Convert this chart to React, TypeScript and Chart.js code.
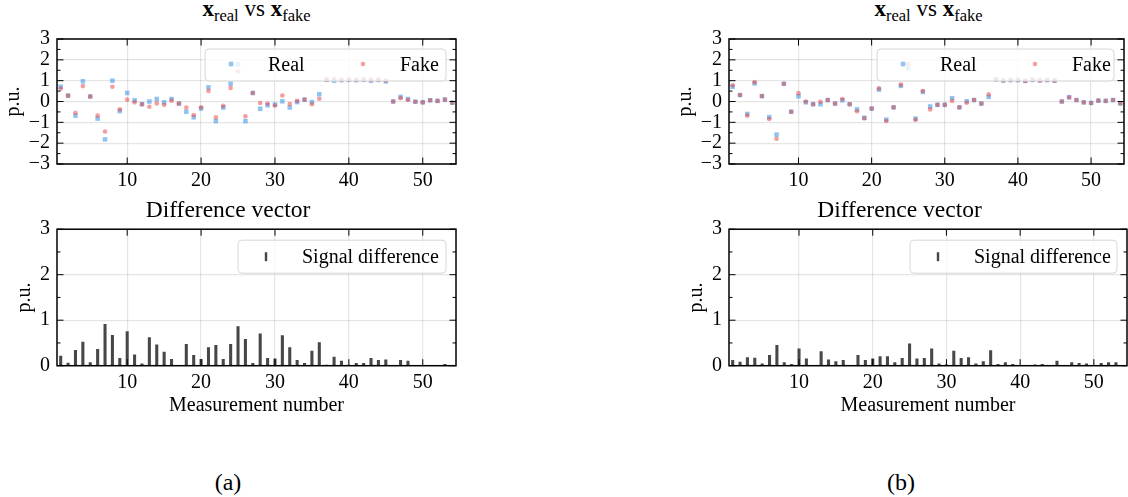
import React, { useEffect, useRef } from 'react';
import { Chart, registerables } from 'chart.js';
Chart.register(...registerables);

// ---------- data ----------
const measurements = [1, 2, 3, 4, 5, 6, 7, 8, 9, 10, 11, 12, 13, 14, 15, 16, 17, 18, 19, 20, 21, 22, 23, 24, 25, 26, 27, 28, 29, 30, 31, 32, 33, 34, 35, 36, 37, 38, 39, 40, 41, 42, 43, 44, 45, 46, 47, 48, 49, 50, 51, 52, 53, 54];

const realA = [0.71, 0.28, -0.68, 0.97, 0.24, -0.82, -1.82, 1.0, -0.46, 0.41, 0.06, -0.13, 0.0, 0.12, -0.04, 0.12, -0.1, -0.49, -0.76, -0.34, 0.68, -0.94, -0.29, 0.85, 1.78, -0.94, 0.41, -0.35, -0.18, -0.15, 0.01, -0.29, -0.03, 0.09, -0.03, 0.35, 1.04, 1.0, 1.03, 1.04, 1.03, 1.04, 1.0, 1.04, 0.97, 0.0, 0.22, 0.12, -0.01, -0.04, 0.06, 0.03, 0.09, -0.06];
const fakeA = [0.62, 0.28, -0.54, 0.74, 0.24, -0.68, -1.44, 0.71, -0.38, 0.09, -0.04, -0.13, -0.25, -0.09, -0.16, 0.04, -0.1, -0.29, -0.65, -0.28, 0.51, -0.76, -0.21, 0.65, 1.44, -0.71, 0.41, -0.07, -0.1, -0.19, 0.29, -0.12, 0.03, 0.09, -0.13, 0.13, 1.05, 1.09, 1.04, 1.04, 1.03, 1.05, 1.04, 1.04, 1.01, 0.0, 0.16, 0.07, -0.01, -0.04, 0.06, 0.03, 0.09, -0.06];
const diffA = [0.21, 0.06, 0.34, 0.52, 0.07, 0.36, 0.91, 0.67, 0.16, 0.75, 0.24, 0.04, 0.62, 0.46, 0.3, 0.14, 0.0, 0.47, 0.23, 0.14, 0.4, 0.45, 0.14, 0.47, 0.86, 0.58, 0.05, 0.7, 0.16, 0.15, 0.66, 0.4, 0.12, 0.05, 0.32, 0.51, 0.01, 0.19, 0.1, 0.01, 0.05, 0.05, 0.16, 0.12, 0.13, 0.0, 0.12, 0.1, 0.0, 0.0, 0.0, 0.0, 0.03, 0.0];

const realB = [0.71, 0.31, -0.6, 0.87, 0.26, -0.75, -1.59, 0.85, -0.49, 0.25, -0.04, -0.13, -0.13, 0.07, -0.1, 0.06, -0.13, -0.38, -0.78, -0.34, 0.57, -0.87, -0.28, 0.75, 1.59, -0.82, 0.46, -0.24, -0.16, -0.16, 0.16, -0.28, 0.01, 0.07, -0.1, 0.22, 1.06, 1.01, 1.03, 1.03, 0.99, 1.04, 1.01, 1.03, 1.0, 0.0, 0.21, 0.07, -0.04, -0.07, 0.04, 0.03, 0.07, -0.09];
const fakeB = [0.78, 0.31, -0.68, 0.93, 0.26, -0.84, -1.79, 0.85, -0.49, 0.4, 0.0, -0.13, -0.01, 0.07, -0.1, 0.12, -0.13, -0.47, -0.81, -0.34, 0.63, -0.94, -0.28, 0.81, 1.79, -0.88, 0.5, -0.38, -0.16, -0.16, 0.03, -0.28, -0.06, 0.07, -0.1, 0.34, 1.06, 1.01, 1.03, 1.03, 0.99, 1.04, 1.01, 1.03, 1.0, 0.0, 0.19, 0.07, -0.04, -0.07, 0.04, 0.03, 0.07, -0.09];
const diffB = [0.12, 0.08, 0.18, 0.17, 0.04, 0.23, 0.45, 0.07, 0.03, 0.37, 0.15, 0.0, 0.31, 0.13, 0.09, 0.12, 0.0, 0.23, 0.12, 0.15, 0.2, 0.2, 0.07, 0.16, 0.48, 0.15, 0.16, 0.37, 0.04, 0.02, 0.32, 0.16, 0.18, 0.04, 0.09, 0.33, 0.03, 0.07, 0.03, 0.0, 0.0, 0.02, 0.03, 0.0, 0.1, 0.0, 0.07, 0.05, 0.04, 0.0, 0.05, 0.07, 0.07, 0.0];

const xTickValues = [10, 20, 30, 40, 50];
const yTicksTop = [-3, -2, -1, 0, 1, 2, 3];
const yMinorTop = [-2.5, -1.5, -0.5, 0.5, 1.5, 2.5];
const yTicksBottom = [0, 1, 2, 3];
const yMinorBottom = [0.5, 1.5, 2.5];

const seriesLabels = ['Real', 'Fake'];
const diffLabel = 'Signal difference';

// ---------- style ----------
const FONT = "'Liberation Serif', 'Times New Roman', serif";
const BLUE = 'rgba(30,136,229,0.5)';
const RED = 'rgba(235,60,60,0.5)';
const BAR = '#474747';
const GRID = 'rgba(0,0,0,0.1)';

const fmt = (v: number) => (v < 0 ? '\u2212' + Math.abs(v) : String(v));

// ticks inside on all four sides + frame
const frameTicks = {
  id: 'frameTicks',
  afterDraw(chart: any, _a: any, opts: any) {
    const { ctx, chartArea: a, scales } = chart;
    const xs = scales.x, ys = scales.y;
    ctx.save();
    ctx.strokeStyle = '#000';
    ctx.lineWidth = 1;
    const line = (x1: number, y1: number, x2: number, y2: number) => {
      ctx.beginPath(); ctx.moveTo(x1, y1); ctx.lineTo(x2, y2); ctx.stroke();
    };
    for (const t of xs.ticks) {
      const px = xs.getPixelForValue(t.value);
      line(px, a.bottom, px, a.bottom - 6.5);
      line(px, a.top, px, a.top + 6.5);
    }
    for (const t of ys.ticks) {
      const py = ys.getPixelForValue(t.value);
      line(a.left, py, a.left + 6.5, py);
      line(a.right, py, a.right - 6.5, py);
    }
    for (const v of opts.yMinor || []) {
      const py = ys.getPixelForValue(v);
      line(a.left, py, a.left + 3.5, py);
      line(a.right, py, a.right - 3.5, py);
    }
    ctx.lineWidth = 1.5;
    ctx.strokeRect(a.left, a.top, a.right - a.left, a.bottom - a.top);
    ctx.restore();
  },
};

// matplotlib-like legend box
const mplLegend = {
  id: 'mplLegend',
  afterDatasetsDraw(chart: any, _a: any, opts: any) {
    const { ctx, chartArea: a } = chart;
    const left = a.left + opts.offsetLeft;
    const right = a.right - opts.offsetRight;
    const top = a.top + opts.offsetTop;
    const h = opts.height;
    ctx.save();
    ctx.beginPath();
    const r = 4;
    ctx.moveTo(left + r, top);
    ctx.lineTo(right - r, top);
    ctx.quadraticCurveTo(right, top, right, top + r);
    ctx.lineTo(right, top + h - r);
    ctx.quadraticCurveTo(right, top + h, right - r, top + h);
    ctx.lineTo(left + r, top + h);
    ctx.quadraticCurveTo(left, top + h, left, top + h - r);
    ctx.lineTo(left, top + r);
    ctx.quadraticCurveTo(left, top, left + r, top);
    ctx.closePath();
    ctx.fillStyle = 'rgba(255,255,255,0.8)';
    ctx.fill();
    ctx.strokeStyle = '#d6d6d6';
    ctx.lineWidth = 1;
    ctx.stroke();
    const cy = top + h / 2;
    ctx.font = `20px ${FONT}`;
    ctx.textBaseline = 'middle';
    ctx.textAlign = 'left';
    for (const it of opts.items) {
      const mx = left + it.marker;
      ctx.fillStyle = it.color;
      if (it.type === 'square') {
        ctx.fillRect(mx - 2.25, cy - 2.25 - 1, 4.5, 4.5);
      } else if (it.type === 'circle') {
        ctx.beginPath(); ctx.arc(mx, cy - 1, 2.3, 0, Math.PI * 2); ctx.fill();
      } else {
        ctx.fillRect(mx - 1.2, cy - 4.5, 2.4, 9);
      }
      ctx.fillStyle = '#000';
      ctx.fillText(it.label, left + it.text, cy + 1);
    }
    ctx.restore();
  },
};

const tickFont = { family: FONT, size: 20 };

function scatterConfig(real: number[], fake: number[], rightPad: number) {
  return {
    type: 'scatter',
    data: {
      datasets: [
        {
          label: seriesLabels[0],
          data: measurements.map((m, i) => ({ x: m, y: real[i] })),
          backgroundColor: BLUE, borderWidth: 0, pointStyle: 'rect', pointRadius: 3.2, order: 2,
        },
        {
          label: seriesLabels[1],
          data: measurements.map((m, i) => ({ x: m, y: fake[i] })),
          backgroundColor: RED, borderWidth: 0, pointStyle: 'circle', pointRadius: 2.3, order: 1,
        },
      ],
    },
    options: {
      animation: false, responsive: false, devicePixelRatio: 1,
      layout: { padding: { top: 8, right: rightPad, left: 0, bottom: 0 } },
      plugins: {
        legend: { display: false }, tooltip: { enabled: false },
        frameTicks: { yMinor: yMinorTop },
        mplLegend: {
          offsetLeft: 148, offsetRight: 10, offsetTop: 10, height: 32,
          items: [
            { type: 'square', color: BLUE, label: seriesLabels[0], marker: 26, text: 63 },
            { type: 'circle', color: RED, label: seriesLabels[1], marker: 158, text: 195 },
          ],
        },
      },
      scales: {
        x: {
          type: 'linear', min: 0.5, max: 54.5,
          afterBuildTicks: (s: any) => { s.ticks = xTickValues.map((v) => ({ value: v })); },
          afterFit: (s: any) => { s.height = 28; },
          grid: { color: GRID, lineWidth: 1.2, drawTicks: false },
          border: { display: false },
          ticks: { font: tickFont, color: '#000', padding: 5, maxRotation: 0, autoSkip: false, callback: (v: any) => fmt(v) },
        },
        y: {
          min: -3, max: 3,
          afterBuildTicks: (s: any) => { s.ticks = yTicksTop.map((v) => ({ value: v })); },
          afterFit: (s: any) => { s.width = 57; },
          grid: { color: GRID, lineWidth: 1.2, drawTicks: false },
          border: { display: false },
          ticks: { font: tickFont, color: '#000', padding: 7, autoSkip: false, callback: (v: any) => fmt(v) },
          title: { display: true, text: 'p.u.', color: '#000', font: { family: FONT, size: 20 }, padding: { top: 2, bottom: 0 } },
        },
      },
    },
    plugins: [frameTicks, mplLegend],
  };
}

function barConfig(diff: number[], rightPad: number) {
  return {
    type: 'bar',
    data: {
      datasets: [
        {
          label: diffLabel,
          data: measurements.map((m, i) => ({ x: m, y: diff[i] })),
          backgroundColor: BAR, borderWidth: 0, barThickness: 2.4,
        },
      ],
    },
    options: {
      animation: false, responsive: false, devicePixelRatio: 1,
      layout: { padding: { top: 0, right: rightPad, left: 0, bottom: 0 } },
      plugins: {
        legend: { display: false }, tooltip: { enabled: false },
        title: {
          display: true, text: 'Difference vector', color: '#000',
          font: { family: FONT, size: 23.5, weight: 'normal' }, padding: { top: 5, bottom: 4 },
        },
        frameTicks: { yMinor: yMinorBottom },
        mplLegend: {
          offsetLeft: 181, offsetRight: 10, offsetTop: 11, height: 33,
          items: [{ type: 'bar', color: BAR, label: diffLabel, marker: 28, text: 64 }],
        },
      },
      scales: {
        x: {
          type: 'linear', min: 0.5, max: 54.5, offset: false,
          afterBuildTicks: (s: any) => { s.ticks = xTickValues.map((v) => ({ value: v })); },
          afterFit: (s: any) => { s.height = 66.3; },
          grid: { color: GRID, lineWidth: 1.2, drawTicks: false, offset: false },
          border: { display: false },
          ticks: { font: tickFont, color: '#000', padding: 5, maxRotation: 0, autoSkip: false, callback: (v: any) => fmt(v) },
          title: { display: true, text: 'Measurement number', color: '#000', font: { family: FONT, size: 20 }, padding: { top: 0, bottom: 14 } },
        },
        y: {
          min: 0, max: 3,
          afterBuildTicks: (s: any) => { s.ticks = yTicksBottom.map((v) => ({ value: v })); },
          afterFit: (s: any) => { s.width = 57; },
          grid: { color: GRID, lineWidth: 1.2, drawTicks: false },
          border: { display: false },
          ticks: { font: tickFont, color: '#000', padding: 7, autoSkip: false, callback: (v: any) => fmt(v) },
          title: { display: true, text: 'p.u.', color: '#000', font: { family: FONT, size: 20 }, padding: { top: 13, bottom: 0 } },
        },
      },
    },
    plugins: [frameTicks, mplLegend],
  };
}

function ChartCanvas({ config, left, top, width, height }: any) {
  const ref = useRef<HTMLCanvasElement | null>(null);
  useEffect(() => {
    if (!ref.current) return;
    const chart = new Chart(ref.current, config);
    return () => chart.destroy();
  }, []);
  return (
    <canvas
      ref={ref}
      width={width}
      height={height}
      style={{ position: 'absolute', left, top, width, height }}
    />
  );
}

function Title({ center }: { center: number }) {
  const sub = { fontSize: '0.72em', verticalAlign: '-0.28em', lineHeight: 0 };
  return (
    <div
      style={{
        position: 'absolute', left: center - 150, top: -4, width: 300, textAlign: 'center',
        fontFamily: FONT, fontSize: 23, lineHeight: '26px', color: '#000', whiteSpace: 'nowrap',
      }}
    >
      <b>x</b><span style={sub}>real</span> vs <b>x</b><span style={sub}>fake</span>
    </div>
  );
}

function SubLabel({ center, text }: { center: number; text: string }) {
  return (
    <div
      style={{
        position: 'absolute', left: center - 40, top: 468, width: 80, textAlign: 'center',
        fontFamily: FONT, fontSize: 24, lineHeight: '28px', color: '#000',
      }}
    >
      {text}
    </div>
  );
}

export default function App() {
  return (
    <div
      style={{
        position: 'fixed', left: 0, top: 0, width: 1128, height: 497,
        background: '#fff', overflow: 'hidden',
      }}
    >
      <Title center={256.5} />
      <Title center={928.5} />
      <ChartCanvas config={scatterConfig(realA, fakeA, 14)} left={0} top={20} width={470} height={172} />
      <ChartCanvas config={barConfig(diffA, 14)} left={0} top={192} width={470} height={240} />
      <ChartCanvas config={scatterConfig(realB, fakeB, 1)} left={672} top={20} width={456} height={172} />
      <ChartCanvas config={barConfig(diffB, 1)} left={672} top={192} width={456} height={240} />
      <SubLabel center={228} text="(a)" />
      <SubLabel center={901} text="(b)" />
    </div>
  );
}
